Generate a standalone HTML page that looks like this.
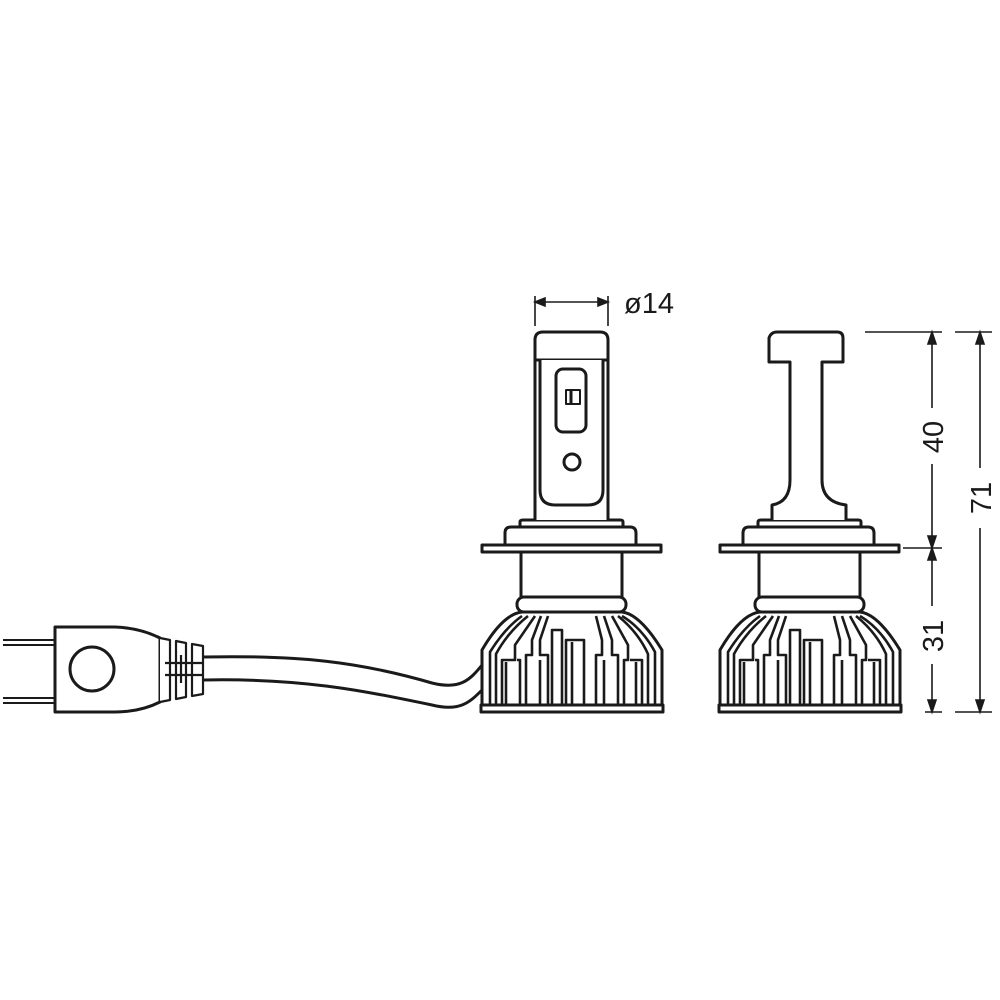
<!DOCTYPE html>
<html><head><meta charset="utf-8"><style>
html,body{margin:0;padding:0;background:#fff;}
svg{display:block;}
text{font-family:"Liberation Sans",sans-serif;fill:#1a1a1a;}
</style></head><body>
<svg width="1000" height="1000" viewBox="0 0 1000 1000" xmlns="http://www.w3.org/2000/svg">
<defs>
<g id="base" fill="#fff" stroke="#1a1a1a" stroke-width="3" stroke-linejoin="round">
  <path d="M520,527 L520,522 Q520,520 523,520 L620,520 Q623,520 623,522 L623,527"/>
  <path d="M505,545 L505,533 Q505,527 511,527 L630,527 Q636,527 636,533 L636,545"/>
  <rect x="482" y="545" width="179" height="7"/>
  <rect x="521" y="552" width="101" height="46"/>
  <rect x="517" y="597" width="109" height="15" rx="7"/>
  <path d="M522,612 L622,612 Q640,614 662,650 L662,705 L482,705 L482,650 Q503,614 522,612 Z"/>
  <rect x="481" y="705" width="182" height="7"/>
  <g fill="none" stroke-width="2.6">
    <path d="M490,705 L490,652 Q505,628 522,616"/>
    <path d="M496,705 L496,654 Q508,632 528,616"/>
    <path d="M502,705 L502,660 L515,660 L515,645 L535,616"/>
    <path d="M520,705 L520,660 L517,660"/>
    <path d="M526,705 L526,655 L532,655 L532,640 L541,616"/>
    <path d="M548,705 L548,655 L540,655 L540,640 L548,616"/>
    <path d="M552,705 L552,630 L562,630 L562,705"/>
    <path d="M566,705 L566,640 L584,640 L584,705"/>
    <path d="M596,705 L596,655 L602,655 L602,640 L596,616"/>
    <path d="M618,705 L618,655 L612,655 L612,640 L604,616"/>
    <path d="M624,705 L624,660 L628,660 L628,645 L612,616"/>
    <path d="M642,705 L642,660 L630,660"/>
    <path d="M648,705 L648,654 Q638,632 618,616"/>
    <path d="M655,705 L655,652 Q642,628 622,616"/>
    <path d="M506,705 L506,662 M540,705 L540,660 M572,705 L572,642 M604,705 L604,660 M636,705 L636,662"/>
  </g>
</g>
</defs>
<g fill="none" stroke="#1a1a1a" stroke-width="3" stroke-linejoin="round">
<path d="M203,657 C300,655 360,662 432,683 C460,690 470,680 482,665" />
<path d="M203,680 C300,678 360,690 432,705 C460,712 470,702 482,690" />
<path d="M55,627 L115,627 Q140,628 160,638 L160,702 Q140,712 115,712 L55,712 Z" fill="#fff"/>
<circle cx="92" cy="669" r="22"/>
<path d="M3,640 L55,640 M3,645 L55,645 M3,698 L55,698 M3,703 L55,703" stroke-width="2"/>
<g stroke-width="2.2" fill="#fff">
  <path d="M160,638 L170,640 L170,700 L160,702"/>
  <path d="M176,641 L186,643 L186,697 L176,699 Z"/>
  <path d="M192,644 L203,646 L203,694 L192,696 Z"/>
  <path d="M165,663 L203,663 M165,675 L203,675 M181,655 L181,683"/>
</g>
</g>
<use href="#base"/>
<g fill="#fff" stroke="#1a1a1a" stroke-width="3" stroke-linejoin="round">
  <path d="M535,520 L535,340 Q535,332 543,332 L600,332 Q608,332 608,340 L608,520"/>
  <path d="M535,360 L608,360"/>
  <path d="M540,360 L540,490 Q540,505 555,505 L588,505 Q603,505 603,490 L603,360"/>
  <rect x="556" y="369" width="30" height="63" rx="7"/>
  <circle cx="572" cy="462" r="8"/>
  <rect x="566" y="390" width="14" height="14" stroke-width="2"/>
  <path d="M571,390 L571,404" stroke-width="3"/>
</g>
<use href="#base" transform="translate(238,0)"/>
<g fill="#fff" stroke="#1a1a1a" stroke-width="3" stroke-linejoin="round">
  <path d="M772,520 L772,505 Q790,502 790,480 L790,362 L769,362 L769,338 Q771,332 777,332 L837,332 Q843,332 843,338 L843,362 L822,362 L822,480 Q822,502 846,505 L846,520"/>
</g>
<g stroke="#1a1a1a" stroke-width="1.6" fill="none">
  <path d="M535,296 L535,326 M608,296 L608,326"/>
  <path d="M545,302 L598,302"/>
  <path d="M535,302 L545,298 L545,306 Z M608,302 L598,298 L598,306 Z" fill="#1a1a1a"/>
  <path d="M865,332 L942,332 M955,332 L992,332 M903,548 L942,548 M925,712 L942,712 M955,712 L992,712"/>
  <path d="M932,342 L932,408 M932,464 L932,538 M932,558 L932,606 M932,664 L932,702"/>
  <path d="M980,342 L980,468 M980,528 L980,702"/>
  <path d="M932,332 L928,344 L936,344 Z M932,548 L928,536 L936,536 Z M932,548 L928,560 L936,560 Z M932,712 L928,700 L936,700 Z M980,332 L976,344 L984,344 Z M980,712 L976,700 L984,700 Z" fill="#1a1a1a"/>
</g>
<text x="624" y="313" font-size="29">ø14</text>
<text transform="translate(943,437) rotate(-90)" font-size="29" text-anchor="middle">40</text>
<text transform="translate(943,636) rotate(-90)" font-size="29" text-anchor="middle">31</text>
<text transform="translate(991,498) rotate(-90)" font-size="29" text-anchor="middle">71</text>
</svg>
</body></html>
